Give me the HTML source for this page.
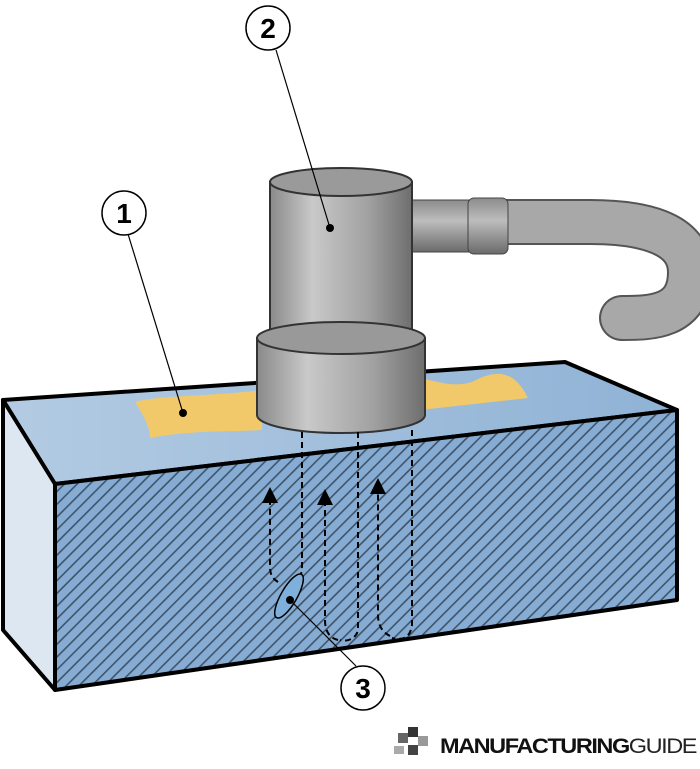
<!DOCTYPE html>
<html><head><meta charset="utf-8"><style>
body{margin:0;background:#fff;width:700px;height:764px;overflow:hidden;font-family:"Liberation Sans",sans-serif}
</style></head><body>
<svg width="700" height="764" viewBox="0 0 700 764" xmlns="http://www.w3.org/2000/svg">
<defs>
<pattern id="h" width="9" height="9" patternUnits="userSpaceOnUse" patternTransform="rotate(45)">
<rect width="9" height="9" fill="#86acd3"/><rect width="1.6" height="9" fill="#2c3e50" opacity="0.8"/>
</pattern>
<linearGradient id="top" x1="0" y1="0" x2="1" y2="0"><stop offset="0" stop-color="#b3cbe3"/><stop offset="1" stop-color="#8fb2d5"/></linearGradient>
<linearGradient id="cyl" x1="0" y1="0" x2="1" y2="0"><stop offset="0" stop-color="#8a8a8a"/><stop offset="0.3" stop-color="#c9c9c9"/><stop offset="0.7" stop-color="#a0a0a0"/><stop offset="1" stop-color="#6e6e6e"/></linearGradient>
<linearGradient id="pipe" x1="0" y1="0" x2="0" y2="1"><stop offset="0" stop-color="#8c8c8c"/><stop offset="0.4" stop-color="#bdbdbd"/><stop offset="1" stop-color="#6a6a6a"/></linearGradient>
<marker id="a" markerWidth="8" markerHeight="8" refX="4" refY="4" orient="auto"><path d="M0,0 L8,4 L0,8z" fill="#000"/></marker>
</defs>
<polygon points="3,400 565,362 677,410 55,484" fill="url(#top)" stroke="#000" stroke-width="4" stroke-linejoin="round"/>
<polygon points="3,400 55,484 55,690 3,630" fill="#dce7f2" stroke="#000" stroke-width="4" stroke-linejoin="round"/>
<polygon points="55,484 677,410 677,600 55,690" fill="url(#h)" stroke="#000" stroke-width="4" stroke-linejoin="round"/>
<path d="M135,402 C160,395 220,396 262,390 L262,430 C230,432 190,430 150,438 C150,425 140,410 135,402z" fill="#f2c96a"/>
<path d="M420,378 C440,382 460,390 480,378 C500,370 515,372 528,398 L420,410z" fill="#f2c96a"/>
<path d="M505,222 L590,222 C640,222 690,232 690,272 C690,318 650,318 622,318" fill="none" stroke="#555" stroke-width="46" stroke-linecap="round"/>
<path d="M505,222 L590,222 C640,222 690,232 690,272 C690,318 650,318 622,318" fill="none" stroke="#a8a8a8" stroke-width="42" stroke-linecap="round"/>
<rect x="410" y="200" width="60" height="52" fill="url(#pipe)" stroke="#444"/>
<rect x="468" y="198" width="40" height="56" rx="6" fill="url(#pipe)" stroke="#444"/>
<path d="M270,182 L270,340 A71,14 0 0 0 412,340 L412,182z" fill="url(#cyl)" stroke="#333" stroke-width="2"/>
<ellipse cx="341" cy="182" rx="71" ry="14" fill="#9a9a9a" stroke="#333" stroke-width="2"/>
<path d="M257,338 L257,415 A84,18 0 0 0 425,415 L425,338z" fill="url(#cyl)" stroke="#333" stroke-width="2"/>
<ellipse cx="341" cy="338" rx="84" ry="16" fill="#999" stroke="#333" stroke-width="2"/>
<g fill="none" stroke="#000" stroke-width="2" stroke-dasharray="6,4">
<path d="M302,432 L302,565 C302,580 296,585 290,588"/>
<path d="M358,432 L358,630 C356,640 345,642 340,640"/>
<path d="M412,430 L412,625 C410,640 400,640 392,638"/>
<path d="M278,582 C272,578 270,575 270,565 L270,495" marker-end="url(#a)"/>
<path d="M338,640 C330,638 325,632 325,620 L325,497" marker-end="url(#a)"/>
<path d="M390,636 C382,632 378,625 378,615 L378,486" marker-end="url(#a)"/>
</g>
<ellipse cx="289" cy="596" rx="8" ry="25" transform="rotate(30 289 596)" fill="#7fb0dc" stroke="#000" stroke-width="1.5"/>
<g stroke="#000" stroke-width="1.2">
<line x1="128" y1="234" x2="183" y2="413"/><line x1="276" y1="50" x2="330" y2="228"/><line x1="356" y1="666" x2="290" y2="600"/>
</g>
<circle cx="183" cy="413" r="4"/><circle cx="330" cy="228" r="4"/><circle cx="290" cy="600" r="4"/>
<g fill="#fff" stroke="#000" stroke-width="1.5">
<circle cx="124" cy="213" r="22"/><circle cx="268" cy="28" r="22"/><circle cx="363" cy="688" r="22"/>
</g>
<g font-size="28" font-weight="bold" text-anchor="middle">
<text x="124" y="223">1</text><text x="268" y="38">2</text><text x="363" y="698">3</text>
</g>
<g fill="#666"><rect x="398" y="733" width="10" height="10"/><rect x="408" y="727" width="10" height="10" fill="#333"/><rect x="418" y="736" width="10" height="10" fill="#999"/><rect x="408" y="745" width="10" height="10" fill="#444"/><rect x="394" y="746" width="10" height="8" fill="#aaa"/></g>
<text x="440" y="753" font-size="21" font-weight="bold" letter-spacing="-1.3" fill="#111" textLength="256" lengthAdjust="spacingAndGlyphs">MANUFACTURING<tspan font-weight="normal" fill="#222">GUIDE</tspan></text>
</svg>
</body></html>
